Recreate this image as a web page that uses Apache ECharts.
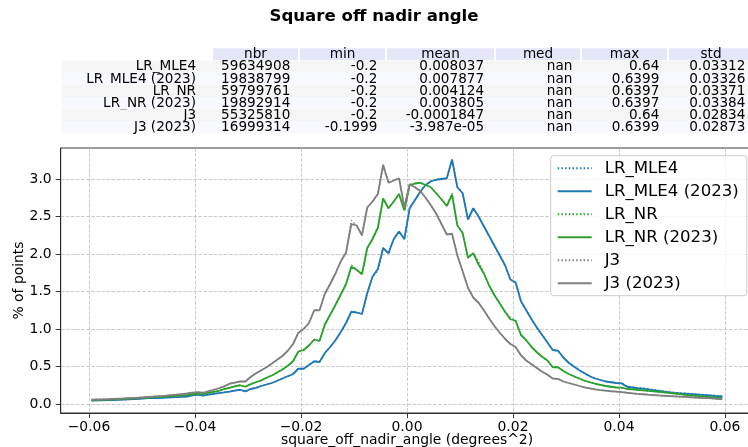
<!DOCTYPE html>
<html><head><meta charset="utf-8">
<script src="https://cdn.jsdelivr.net/npm/echarts@6/dist/echarts.min.js"></script>
<style>html,body{margin:0;padding:0;background:#fff}#c{width:748px;height:447px}</style>
</head><body><div id="c"></div>
<script>
// ---- data ----
const binCenters = [
-0.0595,-0.0585,-0.0575,-0.0565,-0.0555,-0.0545,-0.0535,-0.0525,-0.0515,-0.0505,
-0.0495,-0.0485,-0.0475,-0.0465,-0.0455,-0.0445,-0.0435,-0.0425,-0.0415,-0.0405,
-0.0395,-0.0385,-0.0375,-0.0365,-0.0355,-0.0345,-0.0335,-0.0325,-0.0315,-0.0305,
-0.0295,-0.0285,-0.0275,-0.0265,-0.0255,-0.0245,-0.0235,-0.0225,-0.0215,-0.0205,
-0.0195,-0.0185,-0.0175,-0.0165,-0.0155,-0.0145,-0.0135,-0.0125,-0.0115,-0.0105,
-0.0095,-0.0085,-0.0075,-0.0065,-0.0055,-0.0045,-0.0035,-0.0025,-0.0015,-0.0005,
0.0005,0.0015,0.0025,0.0035,0.0045,0.0055,0.0065,0.0075,0.0085,0.0095,
0.0105,0.0115,0.0125,0.0135,0.0145,0.0155,0.0165,0.0175,0.0185,0.0195,
0.0205,0.0215,0.0225,0.0235,0.0245,0.0255,0.0265,0.0275,0.0285,0.0295,
0.0305,0.0315,0.0325,0.0335,0.0345,0.0355,0.0365,0.0375,0.0385,0.0395,
0.0405,0.0415,0.0425,0.0435,0.0445,0.0455,0.0465,0.0475,0.0485,0.0495,
0.0505,0.0515,0.0525,0.0535,0.0545,0.0555,0.0565,0.0575,0.0585,0.0595];

const lrMle4 = [
0.045,0.047,0.049,0.051,0.053,0.056,0.059,0.062,0.066,0.070,
0.074,0.077,0.080,0.083,0.086,0.089,0.092,0.095,0.100,0.115,
0.125,0.112,0.125,0.135,0.145,0.155,0.165,0.178,0.190,0.168,
0.200,0.215,0.240,0.260,0.280,0.310,0.340,0.370,0.400,0.470,
0.470,0.520,0.570,0.560,0.680,0.760,0.850,0.960,1.080,1.230,
1.220,1.200,1.480,1.700,1.780,2.080,2.010,2.200,2.300,2.200,
2.610,2.720,2.830,2.920,2.970,2.990,3.000,3.010,3.260,2.890,
2.810,2.460,2.610,2.500,2.370,2.240,2.110,1.980,1.850,1.660,
1.620,1.370,1.250,1.130,1.020,0.920,0.820,0.720,0.710,0.620,
0.550,0.500,0.450,0.410,0.370,0.340,0.320,0.300,0.290,0.280,
0.280,0.235,0.225,0.215,0.210,0.200,0.190,0.180,0.170,0.160,
0.153,0.147,0.142,0.137,0.132,0.127,0.122,0.117,0.111,0.105];

const lrMle4_2023 = [
0.045,0.047,0.049,0.051,0.053,0.056,0.059,0.062,0.066,0.070,
0.074,0.077,0.080,0.083,0.086,0.089,0.092,0.095,0.100,0.115,
0.125,0.112,0.125,0.135,0.145,0.155,0.165,0.178,0.190,0.168,
0.200,0.215,0.240,0.260,0.280,0.310,0.340,0.370,0.400,0.470,
0.470,0.520,0.570,0.560,0.680,0.760,0.850,0.960,1.080,1.230,
1.220,1.200,1.480,1.700,1.800,2.080,2.010,2.200,2.300,2.200,
2.610,2.720,2.830,2.920,2.970,2.990,3.000,3.010,3.260,2.890,
2.810,2.460,2.610,2.500,2.370,2.240,2.110,1.980,1.850,1.660,
1.620,1.370,1.250,1.130,1.020,0.920,0.820,0.720,0.710,0.620,
0.550,0.500,0.450,0.410,0.370,0.340,0.320,0.300,0.290,0.280,
0.275,0.230,0.220,0.210,0.205,0.195,0.185,0.175,0.165,0.155,
0.148,0.142,0.137,0.132,0.127,0.122,0.117,0.112,0.106,0.100];

const lrNr = [
0.052,0.054,0.056,0.058,0.061,0.064,0.067,0.071,0.075,0.079,
0.083,0.087,0.091,0.095,0.099,0.104,0.109,0.114,0.120,0.130,
0.140,0.132,0.150,0.163,0.176,0.200,0.215,0.235,0.250,0.230,
0.265,0.290,0.315,0.350,0.380,0.420,0.460,0.510,0.570,0.700,
0.720,0.780,0.860,0.840,1.060,1.190,1.320,1.460,1.600,1.850,
1.790,1.730,2.080,2.200,2.350,2.740,2.610,2.700,2.800,2.580,
2.920,2.940,2.950,2.920,2.890,2.810,2.730,2.640,2.810,2.380,
2.280,1.950,2.010,1.900,1.740,1.580,1.450,1.340,1.230,1.150,
1.110,0.920,0.850,0.760,0.690,0.630,0.580,0.490,0.490,0.440,
0.400,0.370,0.340,0.310,0.290,0.270,0.255,0.240,0.230,0.220,
0.218,0.200,0.195,0.190,0.182,0.175,0.170,0.163,0.155,0.147,
0.139,0.131,0.123,0.116,0.109,0.102,0.096,0.090,0.084,0.078];

const lrNr_2023 = [
0.052,0.054,0.056,0.058,0.061,0.064,0.067,0.071,0.075,0.079,
0.083,0.087,0.091,0.095,0.099,0.104,0.109,0.114,0.120,0.130,
0.140,0.132,0.150,0.163,0.176,0.200,0.215,0.235,0.250,0.230,
0.265,0.290,0.315,0.350,0.380,0.420,0.460,0.510,0.570,0.700,
0.720,0.780,0.860,0.840,1.060,1.190,1.320,1.460,1.600,1.830,
1.790,1.730,2.080,2.200,2.350,2.740,2.610,2.700,2.800,2.580,
2.920,2.940,2.950,2.920,2.890,2.810,2.730,2.640,2.790,2.380,
2.280,1.950,2.010,1.860,1.740,1.580,1.450,1.340,1.230,1.130,
1.110,0.920,0.850,0.760,0.690,0.630,0.580,0.490,0.490,0.440,
0.400,0.370,0.340,0.310,0.290,0.270,0.255,0.240,0.230,0.220,
0.218,0.200,0.195,0.190,0.182,0.175,0.170,0.163,0.155,0.147,
0.139,0.131,0.123,0.116,0.109,0.102,0.096,0.090,0.084,0.078];

const j3 = [
0.058,0.060,0.062,0.065,0.068,0.071,0.074,0.078,0.082,0.086,
0.090,0.095,0.100,0.105,0.110,0.117,0.124,0.132,0.140,0.152,
0.158,0.150,0.170,0.190,0.210,0.235,0.270,0.285,0.300,0.300,
0.360,0.410,0.450,0.490,0.540,0.590,0.640,0.710,0.800,0.950,
1.000,1.080,1.250,1.250,1.470,1.600,1.740,1.900,2.020,2.450,
2.380,2.250,2.620,2.700,2.800,3.170,2.950,2.980,3.010,2.620,
2.930,2.890,2.840,2.750,2.650,2.540,2.400,2.260,2.270,1.980,
1.770,1.550,1.420,1.350,1.250,1.140,1.040,0.950,0.870,0.800,
0.760,0.650,0.580,0.530,0.480,0.430,0.390,0.340,0.335,0.300,
0.280,0.260,0.240,0.222,0.208,0.196,0.186,0.177,0.170,0.165,
0.158,0.150,0.143,0.136,0.130,0.124,0.119,0.114,0.110,0.106,
0.102,0.098,0.094,0.090,0.086,0.082,0.078,0.074,0.068,0.062];

const j3_2023 = [
0.058,0.060,0.062,0.065,0.068,0.071,0.074,0.078,0.082,0.086,
0.090,0.095,0.100,0.105,0.110,0.117,0.124,0.132,0.140,0.152,
0.158,0.150,0.170,0.190,0.210,0.235,0.270,0.285,0.300,0.300,
0.360,0.410,0.450,0.490,0.540,0.590,0.640,0.710,0.800,0.950,
1.000,1.080,1.250,1.250,1.470,1.600,1.740,1.900,2.020,2.400,
2.380,2.250,2.620,2.700,2.800,3.190,2.950,2.980,3.010,2.620,
2.930,2.890,2.840,2.750,2.650,2.540,2.400,2.260,2.270,1.980,
1.770,1.550,1.420,1.350,1.250,1.140,1.040,0.950,0.870,0.800,
0.760,0.650,0.580,0.530,0.480,0.430,0.390,0.340,0.335,0.300,
0.280,0.260,0.240,0.222,0.208,0.196,0.186,0.177,0.170,0.165,
0.158,0.150,0.143,0.136,0.130,0.124,0.119,0.114,0.110,0.106,
0.102,0.098,0.094,0.090,0.086,0.082,0.078,0.074,0.068,0.062];

const seriesNames = ['LR_MLE4','LR_MLE4 (2023)','LR_NR','LR_NR (2023)','J3','J3 (2023)'];
const xTicks = [-0.06,-0.04,-0.02,0,0.02,0.04,0.06];
const yTicks = [0,0.5,1,1.5,2,2.5,3];

const tableColumns = ['nbr','min','mean','med','max','std'];
const tableRowLabels = ['LR_MLE4','LR_MLE4 (2023)','LR_NR','LR_NR (2023)','J3','J3 (2023)'];
const colNbr  = ['59634908','19838799','59799761','19892914','55325810','16999314'];
const colMin  = ['-0.2','-0.2','-0.2','-0.2','-0.2','-0.1999'];
const colMean = ['0.008037','0.007877','0.004124','0.003805','-0.0001847','-3.987e-05'];
const colMed  = ['nan','nan','nan','nan','nan','nan'];
const colMax  = ['0.64','0.6399','0.6397','0.6397','0.64','0.6399'];
const colStd  = ['0.03312','0.03326','0.03371','0.03384','0.02834','0.02873'];

// ---- layout / build ----
const FONT = '"DejaVu Sans", "Liberation Sans", sans-serif';
const tableCells = [colNbr, colMin, colMean, colMed, colMax, colStd];
const colEdges = [[212,299],[299,386],[386,495],[495,581],[581,668],[668,754]];
const labelCell = [61.7, 211];
const tTop = 48.3, rowH = 12.2, tFont = 13.6;
const rowFills = ['#f5f5f5', '#f8f8ff'];

const graphics = [];
colEdges.forEach((e, j) => {
  graphics.push({type:'rect', silent:true, shape:{x:e[0]+1, y:tTop, width:e[1]-e[0]-2, height:rowH-0.6}, style:{fill:'#e6e6fa'}});
  graphics.push({type:'text', silent:true, x:(e[0]+e[1])/2, y:tTop+rowH/2, style:{text:tableColumns[j], fill:'#000', fontSize:tFont, fontFamily:FONT, align:'center', verticalAlign:'middle', textAlign:'center', textVerticalAlign:'middle'}});
});
tableRowLabels.forEach((lab, i) => {
  const y0 = tTop + rowH*(i+1);
  graphics.push({type:'rect', silent:true, shape:{x:labelCell[0], y:y0, width:754-labelCell[0], height:rowH}, style:{fill:rowFills[i%2]}});
  graphics.push({type:'text', silent:true, x:labelCell[1]-0.1*(labelCell[1]-labelCell[0]), y:y0+rowH/2+0.3, style:{text:lab, fill:'#000', fontSize:tFont, fontFamily:FONT, align:'right', verticalAlign:'middle', textAlign:'right', textVerticalAlign:'middle'}});
  colEdges.forEach((e, j) => {
    const w = e[1]-e[0];
    graphics.push({type:'text', silent:true, x:e[1]-0.1*w, y:y0+rowH/2+0.3, style:{text:tableCells[j][i], fill:'#000', fontSize:tFont, fontFamily:FONT, align:'right', verticalAlign:'middle', textAlign:'right', textVerticalAlign:'middle'}});
  });
});

const seriesData = [lrMle4, lrMle4_2023, lrNr, lrNr_2023, j3, j3_2023];
const colors = ['#1f77b4','#1f77b4','#2ca02c','#2ca02c','#7f7f7f','#7f7f7f'];
const series = seriesNames.map((n, k) => ({
  name: n, type: 'line', symbol: 'none', showSymbol: false, animation: false,
  data: binCenters.map((x, i) => [x, seriesData[k][i]]),
  lineStyle: {color: colors[k], width: k % 2 === 0 ? 1.5 : 1.8, type: k % 2 === 0 ? [1.5, 2.2] : 'solid'},
  itemStyle: {color: colors[k]},
  z: 2 + k
}));

const fmtX = v => (v < -1e-9 ? '\u2212' : '') + Math.abs(v).toFixed(2);
const fmtY = v => (v < -1e-9 ? '\u2212' : '') + Math.abs(v).toFixed(1);

const chart = echarts.init(document.getElementById('c'), null, {renderer: 'canvas'});
chart.setOption({
  animation: false,
  backgroundColor: '#ffffff',
  title: {text: 'Square off nadir angle', left: 'center', top: 3,
    textStyle: {fontFamily: FONT, fontWeight: 'bold', fontSize: 16.6, color: '#000'}},
  grid: {left: 60.7, top: 148, width: 692.6, height: 265, outerBoundsMode: 'none', containLabel: false,
    show: true, borderColor: '#222', borderWidth: 0.9, backgroundColor: 'transparent'},
  legend: {
    data: seriesNames, orient: 'vertical', left: 550.7, top: 155.7,
    itemWidth: 34, itemHeight: 14, itemGap: 6,
    padding: [4, 8, 4, 6],
    itemStyle: {opacity: 0},
    backgroundColor: 'rgba(255,255,255,0.8)', borderColor: '#cccccc', borderWidth: 1, borderRadius: 3,
    textStyle: {fontFamily: FONT, fontSize: 16.6, color: '#000', padding: [0, 0, 0, 8]},
    z: 20
  },
  xAxis: {
    type: 'value', min: -0.06534, max: 0.06534,
    name: 'square_off_nadir_angle (degrees^2)', nameLocation: 'middle', nameGap: 20, nameMoveOverlap: false,
    nameTextStyle: {fontFamily: FONT, fontSize: 13.9, color: '#000'},
    axisLine: {show: true, onZero: false, lineStyle: {color: '#222', width: 0.9}},
    axisTick: {show: true, length: 5, customValues: xTicks, lineStyle: {color: '#222', width: 0.9}},
    axisLabel: {customValues: xTicks, formatter: fmtX, margin: 7, fontFamily: FONT, fontSize: 13.9, color: '#000'},
    splitLine: {show: true, lineStyle: {color: '#bdbdbd', width: 0.8, type: [3.5, 1.6]}}
  },
  yAxis: {
    type: 'value', min: -0.12, max: 3.4133,
    name: '% of points', nameLocation: 'middle', nameGap: 34, nameRotate: 90, nameMoveOverlap: false,
    nameTextStyle: {fontFamily: FONT, fontSize: 13.9, color: '#000'},
    axisLine: {show: true, onZero: false, lineStyle: {color: '#222', width: 0.9}},
    axisTick: {show: true, length: 5, customValues: yTicks, lineStyle: {color: '#222', width: 0.9}},
    axisLabel: {customValues: yTicks, formatter: fmtY, margin: 9, fontFamily: FONT, fontSize: 13.9, color: '#000'},
    splitLine: {show: true, lineStyle: {color: '#bdbdbd', width: 0.8, type: [3.5, 1.6]}}
  },
  graphic: {elements: graphics},
  series: series
});
</script>
</body></html>
